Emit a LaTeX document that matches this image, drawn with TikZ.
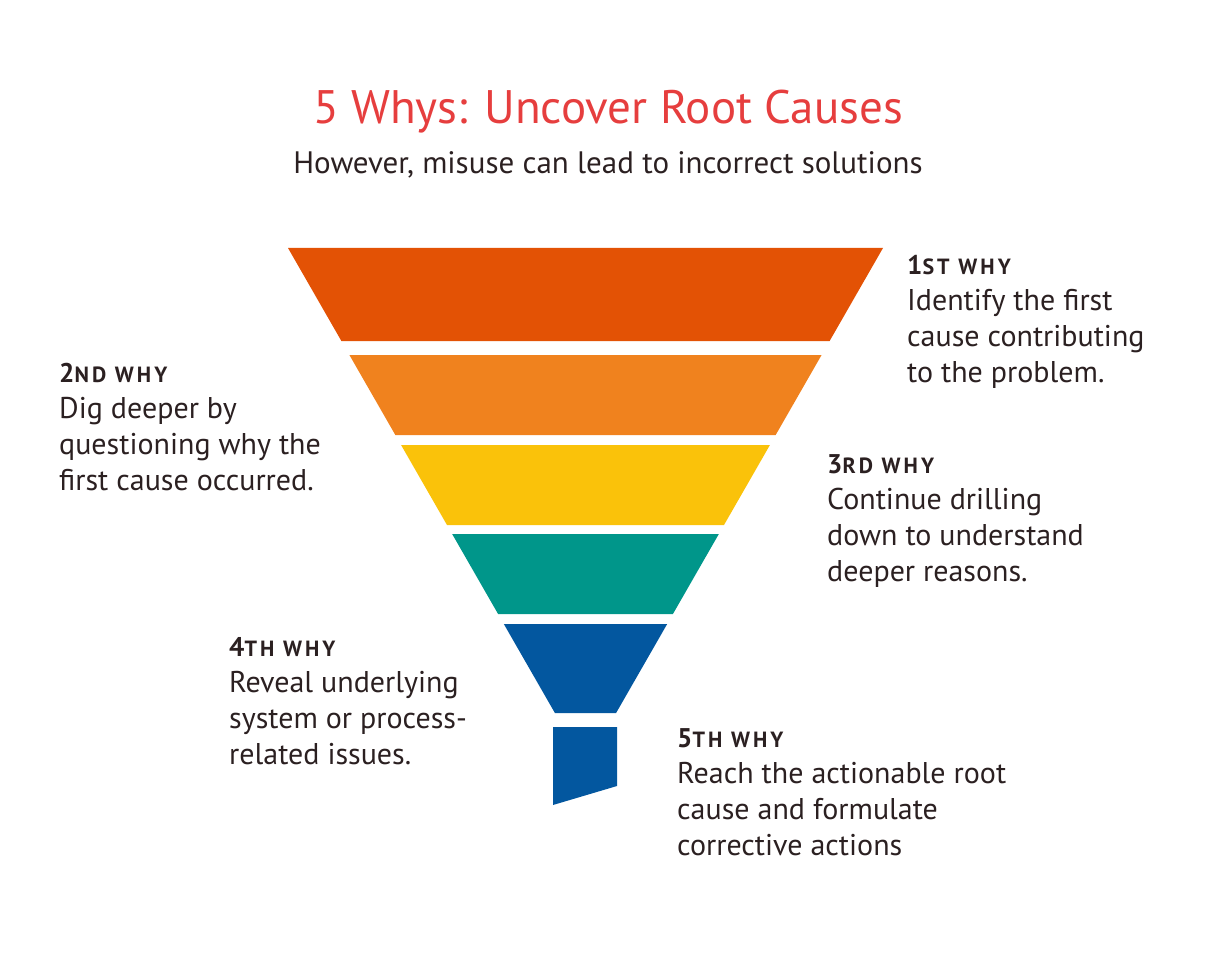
\documentclass[tikz,border=0pt]{standalone}
\usepackage{fontspec}
\setmainfont{PT Sans}
\usetikzlibrary{positioning}
\definecolor{band1}{HTML}{E35205}
\definecolor{band2}{HTML}{F0821E}
\definecolor{band3}{HTML}{FAC20A}
\definecolor{band4}{HTML}{00968A}
\definecolor{band5}{HTML}{03579F}
\definecolor{titlered}{HTML}{E63E3E}
\definecolor{ink}{HTML}{2B2021}
\newcommand{\whyhead}[2]{{\bfseries\fontsize{27}{27}\selectfont #1%
  \addfontfeature{LetterSpace=14}\fontsize{22}{22}\selectfont\MakeUppercase{#2 why}}}
\tikzset{every picture/.style={
  x=1pt,y=-1pt                  % Pixel style coordinates.
  }
}

\begin{document}
\begin{tikzpicture}[
    why/.style={
      anchor=base west,
      align=left,
      text=ink,
      inner sep=0pt,
      font=\fontsize{30}{36}\selectfont
    }]

    \useasboundingbox (0,0) rectangle (1216,960);

    % Title and subtitle.
    \node[text=titlered,font=\fontsize{47}{47}\selectfont] (title) at (608,112)
      {5 Whys: Uncover Root Causes};
    \node[text=ink,font=\fontsize{31}{31}\selectfont] (subtitle) at (608,165)
      {However, misuse can lead to incorrect solutions};

    % Draw the funnel bands.
    \foreach \ya/\yb/\c in {248/341/band1,355/435/band2,445/525/band3,
      534/614/band4,624/713/band5} {
      \pgfmathsetmacro\wa{297.5-0.574*(\ya-248)}
      \pgfmathsetmacro\wb{297.5-0.574*(\yb-248)}
      \fill[\c] (585.5-\wa,\ya) -- (585.5+\wa,\ya) -- (585.5+\wb,\yb)
        -- (585.5-\wb,\yb) -- cycle;
    };

    % .. and its stem.
    \fill[band5] (553,727) -- (617,727) -- (617,786) -- (553,805) -- cycle;

    % Place the labels (anchored at the last line).
    \node[why] (why1) at (907,382)
      {\whyhead{1}{st}\\ Identify the first\\ cause contributing\\ to the problem.};
    \node[why] (why2) at (59,490)
      {\whyhead{2}{nd}\\ Dig deeper by\\ questioning why the\\ first cause occurred.};
    \node[why] (why3) at (827,581)
      {\whyhead{3}{rd}\\ Continue drilling\\ down to understand\\ deeper reasons.};
    \node[why] (why4) at (229,764)
      {\whyhead{4}{th}\\ Reveal underlying\\ system or process-\\ related issues.};
    \node[why] (why5) at (677,855)
      {\whyhead{5}{th}\\ Reach the actionable root\\ cause and formulate\\ corrective actions};
  \end{tikzpicture}
\end{document}
